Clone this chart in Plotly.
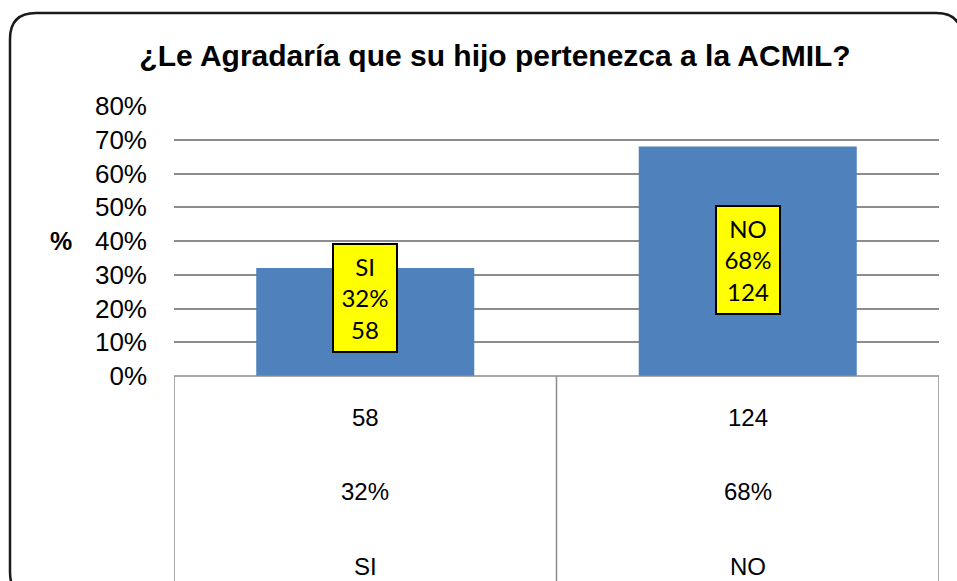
import plotly.graph_objects as go

# ---- data ----
categories = ["SI", "NO"]
percentages = [0.32, 0.68]
counts = [58, 124]
pct_labels = ["32%", "68%"]
y_ticks = [0, 0.1, 0.2, 0.3, 0.4, 0.5, 0.6, 0.7, 0.8]
title_text = "¿Le Agradaría que su hijo pertenezca a la ACMIL?"
y_title = "%"

# ---- layout helpers (pixels -> paper fractions) ----
W, H = 957, 581
def px(x):
    return x / W
def py(y):
    return 1 - y / H

plot_left, plot_right = 174, 939
plot_top, plot_bottom = 106, 376

label_y = [0.23, 0.344]  # vertical anchor of the yellow data labels (axis units)
row_y_px = [417, 491, 566]  # table rows

fig = go.Figure()
fig.add_trace(go.Bar(
    x=categories, y=percentages, width=0.57,
    marker=dict(color="#4F81BD", line=dict(width=0)),
    hoverinfo="skip",
))

annotations = []
# yellow data labels
for c, p, n, ly in zip(categories, pct_labels, counts, label_y):
    annotations.append(dict(
        x=c, y=ly, xref="x", yref="y",
        text=f"{c}<br>{p}<br>{n}", showarrow=False,
        font=dict(family="Lato, Carlito, Calibri, sans-serif", size=24, color="black"),
        bgcolor="#FFFF00", bordercolor="black", borderwidth=2, borderpad=3,
        width=56, height=100, align="center", valign="middle",
    ))

# data table rows
rows = [[str(v) for v in counts], pct_labels, categories]
for ry, row in zip(row_y_px, rows):
    for c, txt in zip(categories, row):
        annotations.append(dict(
            x=c, y=py(ry), xref="x", yref="paper", text=txt, showarrow=False,
            font=dict(family="Liberation Sans, Arial, sans-serif", size=24, color="black"),
            xanchor="center", yanchor="middle",
        ))

# y-axis title
annotations.append(dict(
    x=px(61), y=py(241), xref="paper", yref="paper", text=f"<b>{y_title}</b>", showarrow=False,
    font=dict(family="Liberation Sans, Arial, sans-serif", size=25, color="black"),
    xanchor="center", yanchor="middle",
))

shapes = []
# table lines
for xv in [-0.5, 0.5, 1.5]:
    shapes.append(dict(type="line", xref="x", yref="paper", x0=xv, x1=xv,
                       y0=py(plot_bottom), y1=0,
                       line=dict(color="#8C8C8C", width=1.5)))
shapes.append(dict(type="line", xref="x", yref="paper", x0=-0.5, x1=1.5,
                   y0=py(plot_bottom), y1=py(plot_bottom),
                   line=dict(color="#8C8C8C", width=1.5)))

# rounded outer frame (bottom edge falls just below the visible page)
L, T, R, B, r = 10, 13, 962, 598, 26
path = (f"M {px(L)},{py(T + r)} Q {px(L)},{py(T)} {px(L + r)},{py(T)} "
        f"L {px(R - r)},{py(T)} Q {px(R)},{py(T)} {px(R)},{py(T + r)} "
        f"L {px(R)},{py(B - r)} Q {px(R)},{py(B)} {px(R - r)},{py(B)} "
        f"L {px(L + r)},{py(B)} Q {px(L)},{py(B)} {px(L)},{py(B - r)} Z")
shapes.append(dict(type="path", xref="paper", yref="paper", path=path,
                   line=dict(color="#1A1A1A", width=2.5), layer="above"))

fig.update_layout(
    width=W, height=H, autosize=False,
    margin=dict(l=0, r=0, t=0, b=0, pad=0, autoexpand=False),
    paper_bgcolor="white", plot_bgcolor="white",
    showlegend=False,
    title=dict(text=f"<b>{title_text}</b>", x=px(495), y=py(55), xanchor="center", yanchor="middle",
               xref="paper", yref="paper", automargin=False,
               font=dict(family="Liberation Sans, Arial, sans-serif", size=30, color="black")),
    xaxis=dict(domain=[px(plot_left), px(plot_right)], range=[-0.5, 1.5],
               showticklabels=False, showgrid=False, zeroline=False, showline=False,
               fixedrange=True, automargin=False),
    yaxis=dict(domain=[py(plot_bottom), py(plot_top)], range=[0, 0.8],
               tickvals=y_ticks, tickformat=".0%",
               tickfont=dict(family="Liberation Sans, Arial, sans-serif", size=26, color="black"),
               showgrid=True, gridcolor="#8C8C8C", gridwidth=1.5,
               zeroline=False, showline=False, ticks="", ticklabelstandoff=26,
               fixedrange=True, automargin=False),
    annotations=annotations,
    shapes=shapes,
)

fig.write_html("out.html", config={"displayModeBar": False},
               post_script="document.body.style.margin='0';document.body.style.overflow='hidden';")
